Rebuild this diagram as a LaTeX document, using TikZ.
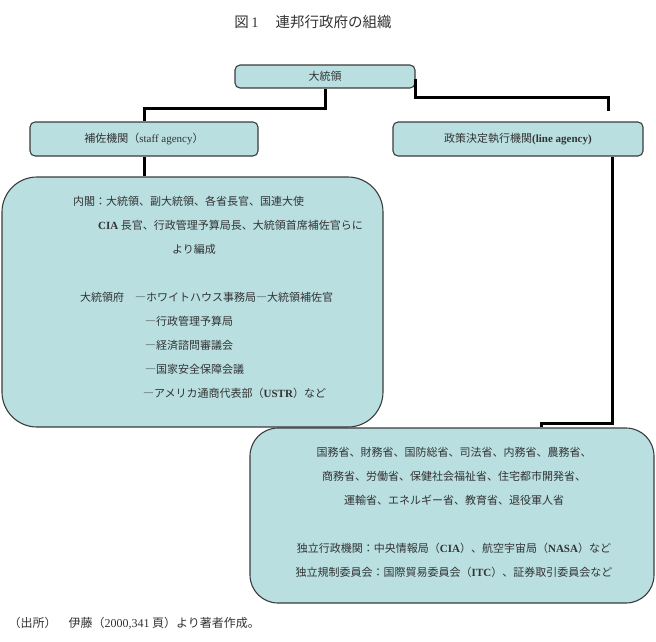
\documentclass[tikz,border=0pt]{standalone}
\usepackage{fontspec}
\setmainfont{Noto Sans CJK JP}
\newfontfamily\latfont{Liberation Serif}
\newcommand{\eng}[1]{{\latfont #1}}
\usepackage{tikz}
\usetikzlibrary{positioning,calc}
\definecolor{boxfill}{HTML}{B9DFE1}
\definecolor{boxline}{HTML}{3C3C3C}
\definecolor{inkgrey}{HTML}{333333}
\tikzset{
  head/.style={rounded corners=5pt, draw=boxline, line width=1.1pt, fill=boxfill,
               align=center, inner sep=0pt, font=\fontsize{11}{13}\selectfont, text=inkgrey},
  big/.style={rounded corners=#1, draw=boxline, line width=1.1pt, fill=boxfill,
              inner sep=0pt},
  conn/.style={line width=3pt, draw=black},
  body/.style={font=\fontsize{11}{24}\selectfont, text=inkgrey, inner sep=0pt},
}

\begin{document}
\begin{tikzpicture}[x=1pt,y=-1pt]
\useasboundingbox (0,0) rectangle (656,641);

% ========================= title =========================================
\node[font=\fontsize{14.5}{16}\selectfont, text=inkgrey] at (313,22) (title)
   {図\,\eng{1}\,　連邦行政府の組織};

% ========================= top row =======================================
\node[head, minimum width=180pt, minimum height=23pt] at (325,76.5) (pres) {大統領};
\node[head, minimum width=228pt, minimum height=34pt] at (144,139) (staff)
   {補佐機関（\eng{staff agency}）};
\node[head, minimum width=250pt, minimum height=34pt] at (518,139) (lineag)
   {政策決定執行機関\eng{\textbf{(line agency)}}};

% ========================= big boxes =====================================
\node[big=35pt, minimum width=381pt, minimum height=250pt] at (192.5,302) (exec) {};
\node[body, align=left, anchor=north west] at (73,196) (exectxt)
   {内閣：大統領、副大統領、各省長官、国連大使\\
    \hspace*{25pt}\eng{\textbf{CIA}} 長官、行政管理予算局長、大統領首席補佐官らに\\
    \hspace*{99pt}より編成\\[24pt]
    \hspace*{7pt}大統領府　―ホワイトハウス事務局―大統領補佐官\\
    \hspace*{72pt}―行政管理予算局\\
    \hspace*{72pt}―経済諮問審議会\\
    \hspace*{72pt}―国家安全保障会議\\
    \hspace*{70pt}―アメリカ通商代表部（\eng{\textbf{USTR}}）など};

\node[big=28pt, minimum width=404pt, minimum height=175pt] at (452,515.5) (indep) {};
\node[body, align=center] at (454,512) (indeptxt)
   {国務省、財務省、国防総省、司法省、内務省、農務省、\\
    商務省、労働省、保健社会福祉省、住宅都市開発省、\\
    運輸省、エネルギー省、教育省、退役軍人省\\[24pt]
    独立行政機関：中央情報局（\eng{\textbf{CIA}}）、航空宇宙局（\eng{\textbf{NASA}}）など\\
    独立規制委員会：国際貿易委員会（\eng{\textbf{ITC}}）、証券取引委員会など};

% ========================= connectors ====================================
\draw[conn] (pres.south) -- ++(0,20) -| (staff.north);
\draw[conn, shorten >=10pt] ([yshift=10pt]pres.south east) -- ++(0,19)
   -| ([xshift=90pt]lineag.north);
\draw[conn] (staff.south) -- (staff.south |- exec.north);
\coordinate (bend) at (541,423);
\draw[conn] ([xshift=94pt]lineag.south) |- (bend) -- (bend |- indep.north);

% ========================= source ========================================
\node[anchor=west, font=\fontsize{12}{14}\selectfont, text=inkgrey] at (5,623) (src)
   {（出所）　伊藤（\eng{2000,341} 頁）より著者作成。};
\end{tikzpicture}
\end{document}
